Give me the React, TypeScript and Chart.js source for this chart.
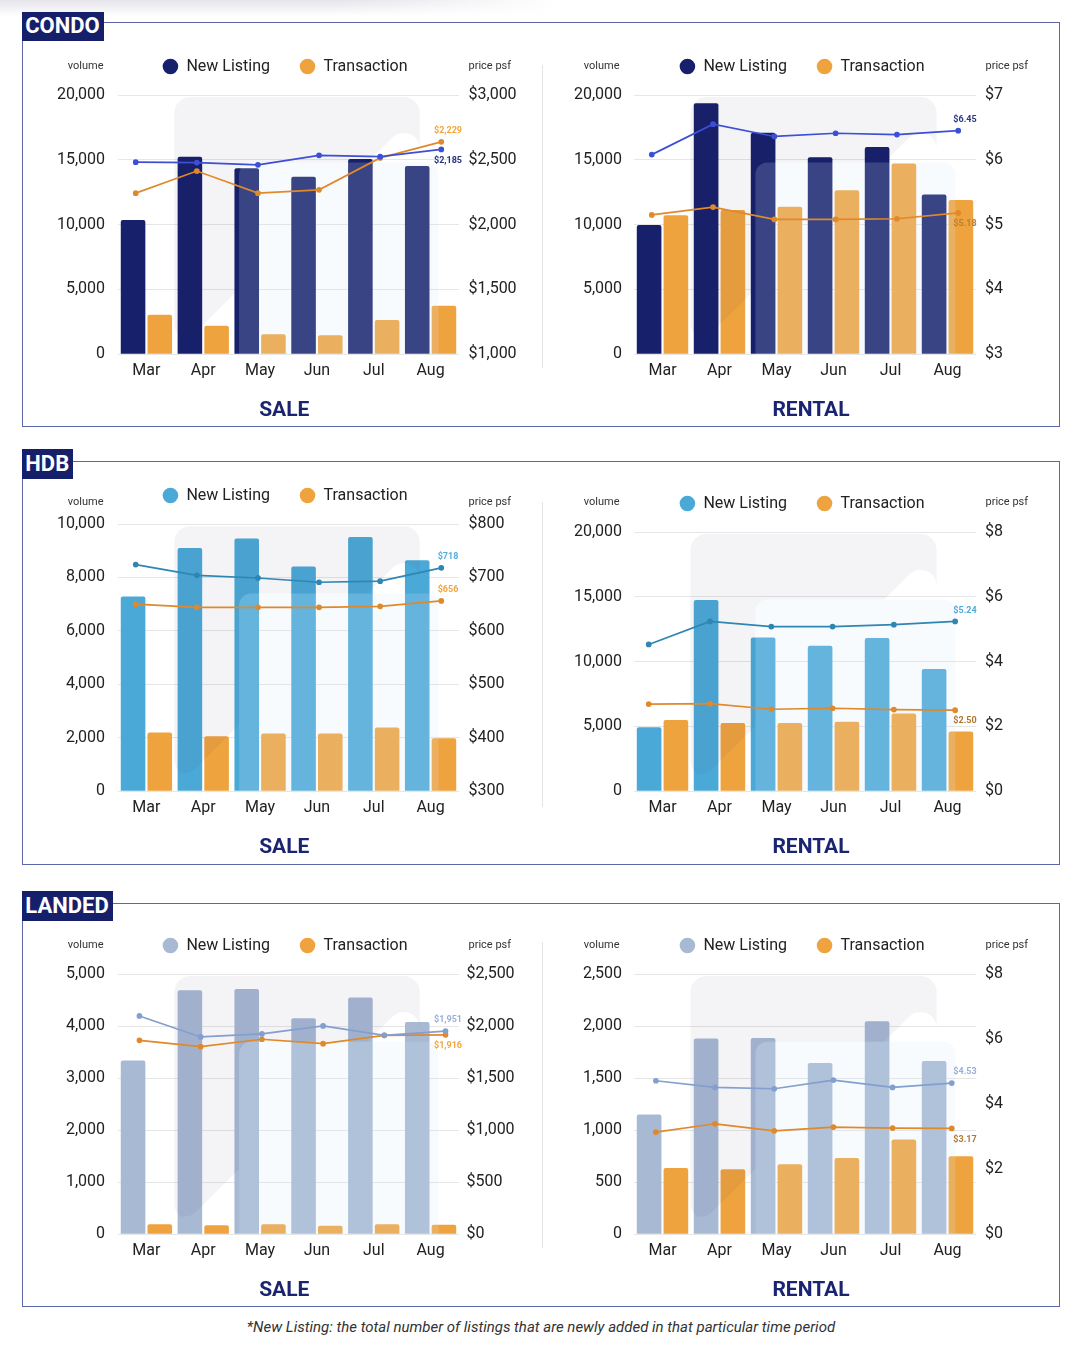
import React, { useEffect, useRef } from "react";
import { Chart, registerables } from "chart.js";

Chart.register(...registerables);
Chart.defaults.font.family = "Roboto, 'Noto Sans', sans-serif";

// ---------- DATA ----------
const months = ["Mar", "Apr", "May", "Jun", "Jul", "Aug"];
const legendNames = ["New Listing", "Transaction"];

const condoSaleNewListing = [10350, 15240, 14340, 13690, 15060, 14520];
const condoSaleTransaction = [3040, 2190, 1540, 1470, 2630, 3730];
const condoSaleNewListingPsf = [2111, 2109, 2096, 2151, 2143, 2185];
const condoSaleTransactionPsf = [1932, 2060, 1932, 1951, 2136, 2229];

const condoRentalNewListing = [9960, 19360, 17090, 15190, 15980, 12330];
const condoRentalTransaction = [10730, 11120, 11380, 12660, 14720, 11890];
const condoRentalNewListingPsf = [6.08, 6.55, 6.36, 6.41, 6.39, 6.45];
const condoRentalTransactionPsf = [5.15, 5.27, 5.08, 5.08, 5.09, 5.18];

const hdbSaleNewListing = [7290, 9100, 9460, 8410, 9510, 8640];
const hdbSaleTransaction = [2200, 2060, 2160, 2160, 2380, 1980];
const hdbSaleNewListingPsf = [724, 704, 699, 691, 693, 718];
const hdbSaleTransactionPsf = [650, 644, 644, 644, 646, 656];

const hdbRentalNewListing = [4940, 14760, 11850, 11230, 11830, 9430];
const hdbRentalTransaction = [5500, 5270, 5270, 5350, 5990, 4600];
const hdbRentalNewListingPsf = [4.53, 5.24, 5.08, 5.08, 5.14, 5.24];
const hdbRentalTransactionPsf = [2.69, 2.7, 2.53, 2.56, 2.52, 2.5];

const landedSaleNewListing = [3340, 4690, 4710, 4150, 4550, 4080];
const landedSaleTransaction = [190, 173, 190, 160, 190, 180];
const landedSaleNewListingPsf = [2097, 1895, 1924, 2001, 1911, 1951];
const landedSaleTransactionPsf = [1863, 1802, 1873, 1831, 1911, 1916];

const landedRentalNewListing = [1151, 1881, 1885, 1644, 2045, 1663];
const landedRentalTransaction = [635, 625, 673, 731, 910, 750];
const landedRentalNewListingPsf = [4.6, 4.4, 4.36, 4.62, 4.4, 4.53];
const landedRentalTransactionPsf = [3.06, 3.31, 3.1, 3.21, 3.18, 3.17];

const footnote =
  "*New Listing: the total number of listings that are newly added in that particular time period";

// ---------- STYLE ----------
const TX_BAR = "#EFA33F";
const TX_LINE = "#E0892B";
const NAVY = "#16206A";

type Spec = {
  title: string;
  titleDx: number;
  box: { left: number; top: number; width: number; height: number };
  newListing: number[];
  transaction: number[];
  newListingPsf: number[];
  transactionPsf: number[];
  volMax: number;
  volStep: number;
  priceMin: number;
  priceMax: number;
  priceStep: number;
  lineMin: number;
  lineMax: number;
  lineXMin: number;
  lineXMax: number;
  decimals: number;
  nlBar: string;
  nlLine: string;
  nlLabel: string;
  txLabel: string;
  nlPos: number;
  txPos: number;
  leftW: number;
  leftPad: number;
  rightW: number;
  rightPad: number;
  volumeDy: number;
};

const LEFT = { left: 30, width: 510, leftW: 88, leftPad: 13, rightW: 81, rightPad: 9.5, titleDx: -0.7 };
const RIGHT = { left: 548, width: 508, leftW: 86, leftPad: 12, rightW: 80, rightPad: 9, titleDx: 9 };

const specs: Spec[] = [
  {
    title: "SALE",
    titleDx: LEFT.titleDx,
    box: { left: LEFT.left, top: 29, width: LEFT.width, height: 397 },
    newListing: condoSaleNewListing,
    transaction: condoSaleTransaction,
    newListingPsf: condoSaleNewListingPsf,
    transactionPsf: condoSaleTransactionPsf,
    volMax: 20000, volStep: 5000,
    priceMin: 1000, priceMax: 3000, priceStep: 500,
    lineMin: 1000, lineMax: 2500,
    lineXMin: -0.29, lineXMax: 5.29,
    decimals: 0,
    nlBar: "#17206B", nlLine: "#3C4FD6", nlLabel: "#28337E", txLabel: "#F4A53C",
    nlPos: 1, txPos: -1,
    leftW: LEFT.leftW, leftPad: LEFT.leftPad, rightW: LEFT.rightW, rightPad: LEFT.rightPad,
    volumeDy: 29,
  },
  {
    title: "RENTAL",
    titleDx: RIGHT.titleDx,
    box: { left: RIGHT.left, top: 29, width: RIGHT.width, height: 397 },
    newListing: condoRentalNewListing,
    transaction: condoRentalTransaction,
    newListingPsf: condoRentalNewListingPsf,
    transactionPsf: condoRentalTransactionPsf,
    volMax: 20000, volStep: 5000,
    priceMin: 3, priceMax: 7, priceStep: 1,
    lineMin: 3, lineMax: 7,
    lineXMin: -0.29, lineXMax: 5.29,
    decimals: 2,
    nlBar: "#17206B", nlLine: "#3C4FD6", nlLabel: "#2A3785", txLabel: "#B98032",
    nlPos: -1, txPos: 1,
    leftW: RIGHT.leftW, leftPad: RIGHT.leftPad, rightW: RIGHT.rightW, rightPad: RIGHT.rightPad,
    volumeDy: 29,
  },
  {
    title: "SALE",
    titleDx: LEFT.titleDx,
    box: { left: LEFT.left, top: 458, width: LEFT.width, height: 405 },
    newListing: hdbSaleNewListing,
    transaction: hdbSaleTransaction,
    newListingPsf: hdbSaleNewListingPsf,
    transactionPsf: hdbSaleTransactionPsf,
    volMax: 10000, volStep: 2000,
    priceMin: 300, priceMax: 800, priceStep: 100,
    lineMin: 300, lineMax: 800,
    lineXMin: -0.29, lineXMax: 5.29,
    decimals: 0,
    nlBar: "#4BA9D7", nlLine: "#2E86B3", nlLabel: "#58AEDC", txLabel: "#F2A640",
    nlPos: -1, txPos: -1,
    leftW: LEFT.leftW, leftPad: LEFT.leftPad, rightW: LEFT.rightW, rightPad: LEFT.rightPad,
    volumeDy: 21.3,
  },
  {
    title: "RENTAL",
    titleDx: RIGHT.titleDx,
    box: { left: RIGHT.left, top: 466, width: RIGHT.width, height: 397 },
    newListing: hdbRentalNewListing,
    transaction: hdbRentalTransaction,
    newListingPsf: hdbRentalNewListingPsf,
    transactionPsf: hdbRentalTransactionPsf,
    volMax: 20000, volStep: 5000,
    priceMin: 0, priceMax: 8, priceStep: 2,
    lineMin: 0, lineMax: 8,
    lineXMin: -0.24, lineXMax: 5.34,
    decimals: 2,
    nlBar: "#4BA9D7", nlLine: "#2E86B3", nlLabel: "#4EAAD8", txLabel: "#B07428",
    nlPos: -1, txPos: 1,
    leftW: RIGHT.leftW, leftPad: RIGHT.leftPad, rightW: RIGHT.rightW, rightPad: RIGHT.rightPad,
    volumeDy: 29.3,
  },
  {
    title: "SALE",
    titleDx: LEFT.titleDx,
    box: { left: LEFT.left, top: 908, width: LEFT.width, height: 398 },
    newListing: landedSaleNewListing,
    transaction: landedSaleTransaction,
    newListingPsf: landedSaleNewListingPsf,
    transactionPsf: landedSaleTransactionPsf,
    volMax: 5000, volStep: 1000,
    priceMin: 0, priceMax: 2500, priceStep: 500,
    lineMin: 0, lineMax: 2500,
    lineXMin: -0.35, lineXMax: 5.22,
    decimals: 0,
    nlBar: "#A8B9D4", nlLine: "#829FCF", nlLabel: "#9AB0D8", txLabel: "#F2A640",
    nlPos: -1, txPos: 1,
    leftW: LEFT.leftW, leftPad: LEFT.leftPad, rightW: LEFT.rightW, rightPad: LEFT.rightPad - 2,
    volumeDy: 28.7,
  },
  {
    title: "RENTAL",
    titleDx: RIGHT.titleDx,
    box: { left: RIGHT.left, top: 908, width: RIGHT.width, height: 398 },
    newListing: landedRentalNewListing,
    transaction: landedRentalTransaction,
    newListingPsf: landedRentalNewListingPsf,
    transactionPsf: landedRentalTransactionPsf,
    volMax: 2500, volStep: 500,
    priceMin: 0, priceMax: 8, priceStep: 2,
    lineMin: 0, lineMax: 7.8,
    lineXMin: -0.37, lineXMax: 5.41,
    decimals: 2,
    nlBar: "#A8B9D4", nlLine: "#829FCF", nlLabel: "#9AB0D8", txLabel: "#B07A30",
    nlPos: -1, txPos: 1,
    leftW: RIGHT.leftW, leftPad: RIGHT.leftPad, rightW: RIGHT.rightW, rightPad: RIGHT.rightPad,
    volumeDy: 28.7,
  },
];

const sections = [
  { name: "CONDO", top: 22, bottom: 427, labelTop: 11.7, labelW: 82, divTop: 65, divBottom: 368 },
  { name: "HDB", top: 460.7, bottom: 865, labelTop: 449, labelW: 51.5, divTop: 502, divBottom: 807 },
  { name: "LANDED", top: 902.7, bottom: 1307, labelTop: 891, labelW: 91, divTop: 942, divBottom: 1248 },
];

// dataset order in each chart: [NL price line, Tx price line, NL bars, Tx bars]
const LINE_NL = 0;
const LINE_TX = 1;
const BAR_NL = 2;
const TITLE_SPACE = 38.6;

// ---------- PLUGIN ----------
function roundedPoly(ctx: CanvasRenderingContext2D, pts: number[][], r: number) {
  const n = pts.length;
  const last = pts[n - 1];
  const first = pts[0];
  ctx.moveTo((last[0] + first[0]) / 2, (last[1] + first[1]) / 2);
  for (let i = 0; i < n; i++) {
    const p1 = pts[i];
    const p2 = pts[(i + 1) % n];
    ctx.arcTo(p1[0], p1[1], p2[0], p2[1], r);
  }
  ctx.closePath();
}

const decorPlugin: any = {
  id: "decor",
  afterDatasetDraw(chart: any, args: any) {
    if (args.index !== BAR_NL) return;
    const a = chart.chartArea;
    const ctx: CanvasRenderingContext2D = chart.ctx;
    const W = a.right - a.left;
    const H = a.bottom - a.top;
    const X = (f: number) => a.left + f * W;
    const Y = (f: number) => a.top + f * H;
    const inner = [X(0.355), Y(0.26), X(0.94), Y(1.04)];
    ctx.save();
    ctx.beginPath();
    ctx.rect(a.left, a.top, W, H);
    ctx.clip();
    ctx.save();
    ctx.beginPath();
    ctx.rect(a.left - 5, a.top - 5, W + 10, H + 10);
    roundedPoly(ctx, [
      [inner[0], inner[1]], [inner[0], inner[3]], [inner[2], inner[3]], [inner[2], inner[1]],
    ], 12);
    ctx.clip("evenodd");
    ctx.beginPath();
    roundedPoly(ctx, [
      [X(0.165), Y(0.008)], [X(0.885), Y(0.008)], [X(0.885), Y(0.06)], [X(0.205), Y(0.945)], [X(0.165), Y(0.92)],
    ], 16);
    ctx.fillStyle = "rgba(30,30,70,0.05)";
    ctx.fill();
    ctx.restore();
    ctx.beginPath();
    roundedPoly(ctx, [
      [inner[0], inner[1]], [inner[2], inner[1]], [inner[2], inner[3]], [inner[0], inner[3]],
    ], 12);
    ctx.fillStyle = "rgba(215,232,250,0.18)";
    ctx.fill();
    ctx.restore();
  },
  afterDatasetsDraw(chart: any, _args: any, opts: any) {
    const a = chart.chartArea;
    const ctx: CanvasRenderingContext2D = chart.ctx;
    ctx.save();
    ctx.font = "11px Roboto";
    ctx.fillStyle = "#333";
    ctx.textBaseline = "middle";
    ctx.textAlign = "right";
    ctx.fillText("volume", a.left - 14.5, a.top - opts.volumeDy);
    ctx.textAlign = "left";
    ctx.fillText("price psf", a.right + 9.5, a.top - opts.volumeDy);
    ctx.font = "bold 9px Roboto";
    ctx.textAlign = "center";
    [LINE_NL, LINE_TX].forEach((di, k) => {
      const meta = chart.getDatasetMeta(di);
      const pt = meta.data[meta.data.length - 1];
      const ds = chart.data.datasets[di];
      const v = ds.data[ds.data.length - 1].y as number;
      const txt =
        "$" +
        v.toLocaleString("en-US", {
          minimumFractionDigits: opts.decimals,
          maximumFractionDigits: opts.decimals,
        });
      ctx.fillStyle = k === 0 ? opts.nlLabel : opts.txLabel;
      const dir = k === 0 ? opts.nlPos : opts.txPos;
      ctx.fillText(txt, a.right - 11, pt.y + dir * 11);
    });
    // panel title below the axis
    ctx.font = "bold 21px Roboto";
    ctx.fillStyle = "#1B2471";
    ctx.textAlign = "center";
    ctx.textBaseline = "middle";
    ctx.fillText(opts.title, chart.width / 2 + opts.titleDx, a.bottom + 57);
    ctx.restore();
  },
};

function buildConfig(s: Spec): any {
  const fmtVol = (v: any) => Number(v).toLocaleString("en-US");
  const fmtPrice = (v: any) => "$" + Number(v).toLocaleString("en-US");
  // Chart.js 4.5 splits each category among all index axes used by the datasets
  // (here 2: "xLine" then "x"), so the bar group is given twice the category share
  // and lands in the two central slots.
  const barCommon = {
    type: "bar",
    xAxisID: "x",
    yAxisID: "y",
    order: 1,
    categoryPercentage: 1.88,
    barPercentage: 0.92,
    borderRadius: 2,
    borderWidth: 0,
  };
  const lineCommon = {
    type: "line",
    xAxisID: "xLine",
    yAxisID: "yLine",
    order: 0,
    borderWidth: 1.7,
    pointRadius: 2,
    pointHoverRadius: 2,
    tension: 0,
    fill: false,
  };
  return {
    type: "bar",
    data: {
      labels: months,
      datasets: [
        {
          ...lineCommon,
          label: legendNames[0] + " price psf",
          data: s.newListingPsf.map((y, i) => ({ x: i, y })),
          borderColor: s.nlLine,
          backgroundColor: s.nlLine,
          pointBorderColor: s.nlLine,
        },
        {
          ...lineCommon,
          label: legendNames[1] + " price psf",
          data: s.transactionPsf.map((y, i) => ({ x: i, y })),
          borderColor: TX_LINE,
          backgroundColor: TX_LINE,
          pointBorderColor: TX_LINE,
        },
        { ...barCommon, label: legendNames[0], data: s.newListing, backgroundColor: s.nlBar },
        { ...barCommon, label: legendNames[1], data: s.transaction, backgroundColor: TX_BAR },
      ],
    },
    options: {
      responsive: true,
      maintainAspectRatio: false,
      animation: false,
      events: [],
      layout: { padding: { top: 0, left: 0, right: 0, bottom: TITLE_SPACE } },
      scales: {
        x: {
          type: "category",
          offset: true,
          grid: { display: false, drawTicks: false },
          border: { display: false },
          ticks: { color: "#222", font: { size: 16 }, padding: 7, maxRotation: 0 },
        },
        xLine: {
          type: "linear",
          display: false,
          offset: false,
          bounds: "data",
          grid: { offset: false },
          min: s.lineXMin,
          max: s.lineXMax,
        },
        y: {
          type: "linear",
          position: "left",
          min: 0,
          max: s.volMax,
          ticks: { stepSize: s.volStep, color: "#222", font: { size: 16 }, padding: s.leftPad, callback: fmtVol },
          grid: { color: "#E6E6E6", drawTicks: false, lineWidth: 1 },
          border: { display: false },
          afterFit: (sc: any) => {
            sc.width = s.leftW;
          },
        },
        yR: {
          type: "linear",
          position: "right",
          min: s.priceMin,
          max: s.priceMax,
          ticks: { stepSize: s.priceStep, color: "#222", font: { size: 16 }, padding: s.rightPad, callback: fmtPrice },
          grid: { display: false, drawTicks: false },
          border: { display: false },
          afterFit: (sc: any) => {
            sc.width = s.rightW;
          },
        },
        yLine: { type: "linear", display: false, min: s.lineMin, max: s.lineMax },
      },
      plugins: {
        legend: {
          display: true,
          position: "top",
          labels: {
            filter: (item: any) => item.datasetIndex >= BAR_NL,
            sort: (a: any, b: any) => a.datasetIndex - b.datasetIndex,
            usePointStyle: true,
            pointStyle: "circle",
            boxWidth: 16,
            boxHeight: 11,
            padding: 29.5,
            color: "#222",
            font: { size: 16 },
          },
        },
        subtitle: {
          display: true,
          text: "",
          position: "top",
          weight: 500,
          padding: 0,
          font: { size: 10, lineHeight: 1.05 },
        },
        title: { display: false },
        tooltip: { enabled: false },
        decor: {
          title: s.title,
          titleDx: s.titleDx,
          volumeDy: s.volumeDy,
          decimals: s.decimals,
          nlLabel: s.nlLabel,
          txLabel: s.txLabel,
          nlPos: s.nlPos,
          txPos: s.txPos,
        },
      },
    },
    plugins: [decorPlugin],
  };
}

function ComboChart({ spec }: { spec: Spec }) {
  const ref = useRef<HTMLCanvasElement>(null);
  useEffect(() => {
    const chart = new Chart(ref.current as HTMLCanvasElement, buildConfig(spec));
    return () => chart.destroy();
  }, [spec]);
  return (
    <div
      style={{
        position: "absolute",
        left: spec.box.left,
        top: spec.box.top,
        width: spec.box.width,
        height: spec.box.height,
      }}
    >
      <canvas ref={ref} />
    </div>
  );
}

export default function App() {
  return (
    <div
      style={{
        position: "absolute",
        left: 0,
        top: 0,
        width: 1090,
        height: 1346,
        background: "#fff",
        fontFamily: "Roboto, sans-serif",
        overflow: "hidden",
      }}
    >
      <div
        style={{
          position: "absolute",
          left: 0,
          top: 0,
          width: 560,
          height: 16,
          background: "linear-gradient(to bottom, rgba(225,225,232,0.9), rgba(255,255,255,0))",
          WebkitMaskImage: "linear-gradient(to right, black 60%, transparent)",
          maskImage: "linear-gradient(to right, black 60%, transparent)",
        }}
      />
      {sections.map((sec) => (
        <React.Fragment key={sec.name}>
          <div
            style={{
              position: "absolute",
              left: 22,
              top: sec.top,
              width: 1038,
              height: sec.bottom - sec.top,
              border: "1.5px solid #5C66AA",
              boxSizing: "border-box",
            }}
          />
          <div
            style={{
              position: "absolute",
              left: 541.5,
              top: sec.divTop,
              width: 1.5,
              height: sec.divBottom - sec.divTop,
              background: "#E4E4E4",
            }}
          />
        </React.Fragment>
      ))}
      {specs.map((s, i) => (
        <ComboChart key={i} spec={s} />
      ))}
      {sections.map((sec) => (
        <div
          key={"lbl" + sec.name}
          style={{
            position: "absolute",
            left: 21.5,
            top: sec.labelTop,
            width: sec.labelW,
            height: 29.6,
            background: NAVY,
            color: "#fff",
            fontWeight: 700,
            fontSize: 22,
            display: "flex",
            alignItems: "center",
            justifyContent: "center",
            lineHeight: 1,
          }}
        >
          {sec.name}
        </div>
      ))}
      <div
        style={{
          position: "absolute",
          left: 0,
          top: 1318,
          width: 1082,
          textAlign: "center",
          fontStyle: "italic",
          fontSize: 15,
          lineHeight: "18px",
          color: "#333",
        }}
      >
        {footnote}
      </div>
    </div>
  );
}
